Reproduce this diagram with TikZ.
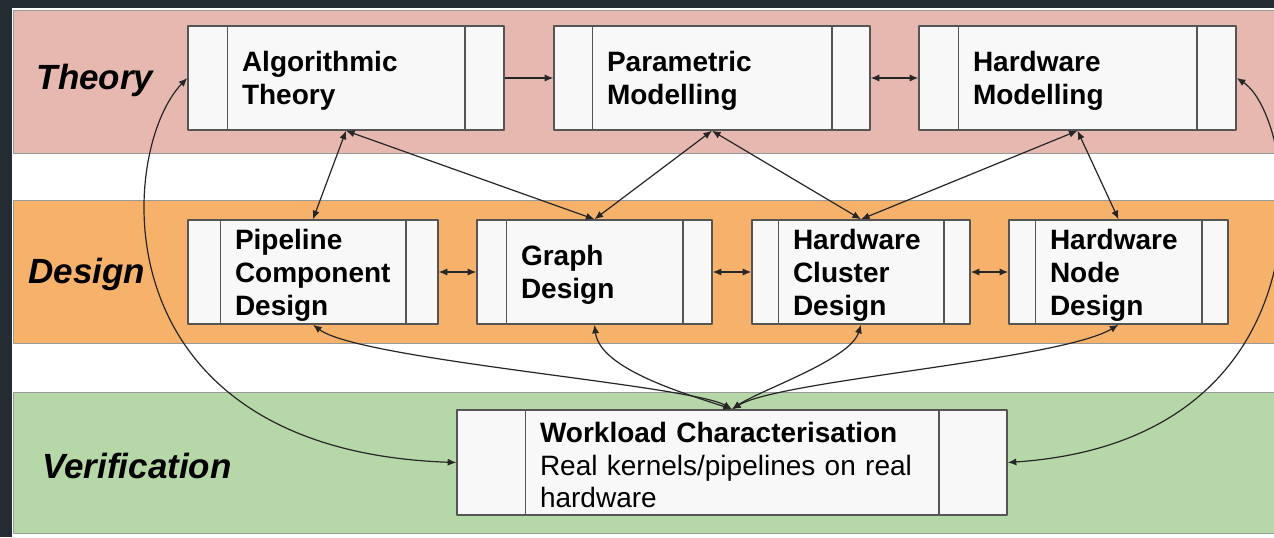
\documentclass[tikz,border=0pt]{standalone}
\usepackage{fontspec}
\setmainfont{Liberation Sans}
\usetikzlibrary{arrows.meta}
\definecolor{frame}{HTML}{232B33}
\definecolor{theoryband}{HTML}{E6B8AF}
\definecolor{designband}{HTML}{F6B26B}
\definecolor{verifyband}{HTML}{B6D7A8}
\definecolor{boxfill}{HTML}{F8F8F8}
\definecolor{boxline}{HTML}{555555}
\begin{document}
\begin{tikzpicture}[x=0.5pt, y=-0.5pt, line join=round, >={Latex[length=4.3pt,width=3.6pt]},
	band/.style={draw=black!40, line width=0.5pt},
	lane/.style={font=\fontsize{17.5}{20}\selectfont\bfseries\itshape},
	strip/.style={append after command={
		([xshift=#1]\tikzlastnode.north west) edge[boxline, line width=0.75pt] ([xshift=#1]\tikzlastnode.south west)
		([xshift=-#1]\tikzlastnode.north east) edge[boxline, line width=0.75pt] ([xshift=-#1]\tikzlastnode.south east)}},
	proc/.style={draw=boxline, fill=boxfill, line width=0.75pt, minimum height=52pt, inner sep=0pt, align=left,
		font=\fontsize{14}{16.5}\selectfont\bfseries, execute at begin node={\rule{0pt}{13pt}}},
	link/.style={line width=0.6pt, black!85}]
	% frame and lanes
	\useasboundingbox (0,0) rectangle (1274,537);
	\fill[frame] (0,0) rectangle (1274,537);
	\fill[white] (12,8) rectangle (1274,537);
	\draw[band, fill=theoryband] (13,10) rectangle (1290,153);
	\draw[band, fill=designband] (13,200) rectangle (1290,343);
	\draw[band, fill=verifyband] (13,392) rectangle (1290,533);
	\node[lane] (theory) at (95,80) {Theory};
	\node[lane] (design) at (87,274) {Design};
	\node[lane] (verify) at (137,466) {Verification};
	% theory row
	\node[proc, minimum width=158pt, text width=104pt, strip=20pt] (algo) at (346,78) {Algorithmic\\Theory};
	\node[proc, minimum width=158pt, text width=105pt, strip=19.5pt] (param) at (712,78) {Parametric\\Modelling};
	\node[proc, minimum width=158.5pt, text width=104.5pt, strip=20pt] (hwmod) at (1077.5,78) {Hardware\\Modelling};
	% design row
	\node[proc, minimum width=125pt, text width=78pt, strip=16.5pt] (pipe) at (313,272) {Pipeline\\Component\\Design};
	\node[proc, minimum width=117.5pt, text width=73.5pt, strip=15pt] (graph) at (594.5,272) {Graph\\Design};
	\node[proc, minimum width=109pt, text width=68pt, strip=13.5pt] (hwclus) at (861,272) {Hardware\\Cluster\\Design};
	\node[proc, minimum width=109.5pt, text width=68.5pt, strip=13.5pt] (hwnode) at (1118.5,272) {Hardware\\Node\\Design};
	% verification
	\node[proc, minimum width=275pt, minimum height=52.5pt, text width=192pt, strip=34.5pt, font=\fontsize{14}{16.3}\selectfont] (work) at (732,462.5) {\textbf{Workload Characterisation}\\Real kernels/pipelines on real\\hardware};
	% links inside rows
	\draw[link, ->] (algo) -- (param);
	\draw[link, <->] (param) -- (hwmod);
	\draw[link, <->] (pipe) -- (graph);
	\draw[link, <->] (graph) -- (hwclus);
	\draw[link, <->] (hwclus) -- (hwnode);
	% theory <-> design
	\draw[link, <->] (algo.south) -- (pipe.north);
	\draw[link, <->] (algo.south) -- (graph.north);
	\draw[link, <->] (param.south) -- (graph.north);
	\draw[link, <->] (param.south) -- (hwclus.north);
	\draw[link, <->] (hwmod.south) -- (hwclus.north);
	\draw[link, <->] (hwmod.south) -- (hwnode.north);
	% verification fan
	\draw[link, <->] (work.north) .. controls (690,385) and (360,360) .. (pipe.south);
	\draw[link, <->] (work.north) .. controls (690,395) and (600,370) .. (graph.south);
	\draw[link, <->] (work.north) .. controls (760,390) and (850,360) .. (hwclus.south);
	\draw[link, <->] (work.north) .. controls (780,380) and (1060,360) .. (hwnode.south);
	\draw[link, <->] (algo.west) .. controls (118,150) and (95,450) .. (work.west);
	\draw[link, <->] (hwmod.east) .. controls (1300,120) and (1340,440) .. (work.east);
\end{tikzpicture}
\end{document}
